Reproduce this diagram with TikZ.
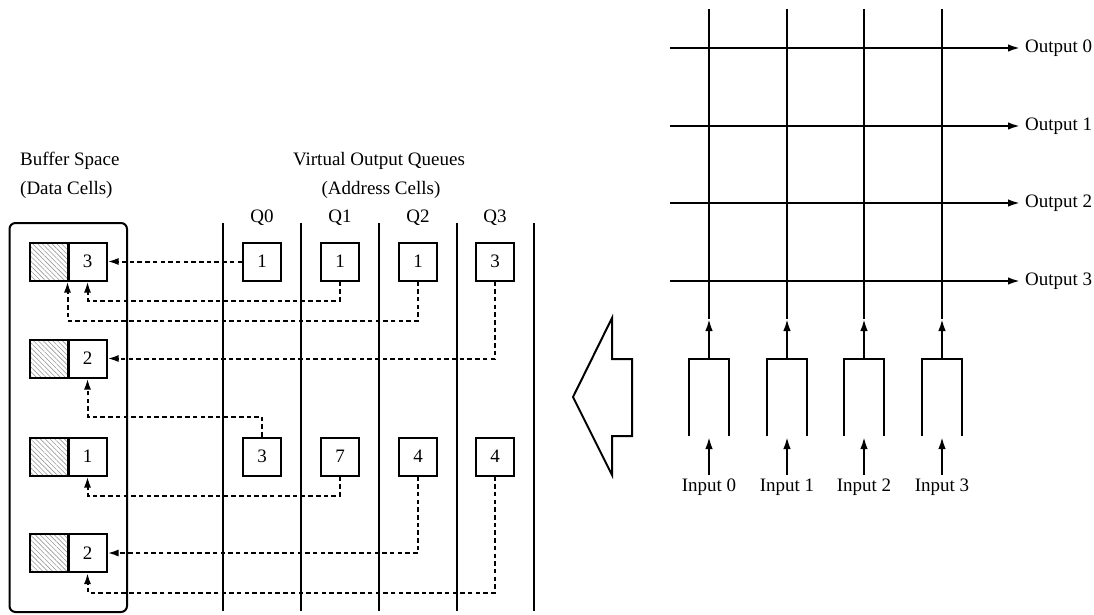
\documentclass[tikz,border=0pt]{standalone}
\usepackage{fontspec}
\setmainfont{Liberation Serif}
\usetikzlibrary{arrows.meta,patterns.meta}
\begin{document}
\begin{tikzpicture}[x=1pt,y=-1pt,
  wire/.style={line width=2pt},
  tipped/.style={wire,-{Latex[length=12pt,width=7.5pt]}},
  link/.style={line width=2pt,dash pattern=on 4.5pt off 3.2pt,-{Latex[length=11pt,width=7pt]}},
  lbl/.style={font=\fontsize{19}{22}\selectfont,inner sep=0pt},
  cellbox/.style={draw,line width=2pt,minimum width=38pt,minimum height=38pt,inner sep=0pt,font=\fontsize{19}{22}\selectfont},
  hatchbox/.style={cellbox,pattern={Lines[angle=-45,distance=3.4pt,line width=0.6pt]},pattern color=gray!80},
]
\useasboundingbox (0,0) rectangle (1094,615);

% ---------- buffer space ----------
\node[lbl,anchor=base west] (bs) at (20,165) {Buffer Space};
\node[lbl,anchor=base west] (dc) at (20,194) {(Data Cells)};
\draw[wire,rounded corners=6pt] (9.5,223) rectangle (127,612);

\foreach \i/\y/\v in {1/261.5/3,2/358.5/2,3/456.5/1,4/553/2}{
  \node[hatchbox] (h\i) at (48.5,\y) {};
  \node[cellbox] (c\i) at (87.5,\y) {\v};
}

% ---------- virtual output queues ----------
\node[lbl,anchor=base] (voq) at (379,165) {Virtual Output Queues};
\node[lbl,anchor=base] (ac) at (381,194) {(Address Cells)};
\foreach \x in {223,301,379,457,534}
  \draw[wire] (\x,223) -- (\x,611);
\foreach \k/\x in {0/262,1/340,2/418,3/495}
  \node[lbl,anchor=base] (qh\k) at (\x,222) {Q\k};

\node[cellbox] (qa0) at (262,261.5) {1};
\node[cellbox] (qa1) at (340,261.5) {1};
\node[cellbox] (qa2) at (418,261.5) {1};
\node[cellbox] (qa3) at (495,261.5) {3};
\node[cellbox] (qb0) at (262,456.5) {3};
\node[cellbox] (qb1) at (340,456.5) {7};
\node[cellbox] (qb2) at (418,456.5) {4};
\node[cellbox] (qb3) at (495,456.5) {4};

% ---------- address pointers ----------
\draw[link] (qa0.west) -- (c1.east);
\draw[link] (qa1.south) -- ++(0,19) -| (c1.south);
\draw[link] (qa2.south) -- ++(0,39) -| (c1.south west);
\draw[link] (qa3.south) |- (c2.east);
\draw[link] (qb0.north) -- ++(0,-20) -| (c2.south);
\draw[link] (qb1.south) -- ++(0,19) -| (c3.south);
\draw[link] (qb2.south) |- (c4.east);
\draw[link] (qb3.south) -- ++(0,116) -| (c4.south);

% ---------- hollow arrow ----------
\draw[wire,line join=miter] (573,397) -- (612,318) -- (612,359) -- (632,359)
  -- (632,436) -- (612,436) -- (612,475) -- cycle;

% ---------- crossbar ----------
\foreach \j/\y in {0/48,1/126,2/203,3/281}{
  \node[lbl,anchor=west,inner xsep=5pt] (o\j) at (1020,\y) {\vphantom{O}Output \j};
  \coordinate (l\j) at (670,\y);
  \draw[tipped] (l\j) -- (o\j.west);
}
\foreach \k/\x in {0/709,1/787,2/864,3/942}{
  \draw[wire] (\x,9) -- (\x,319);
  \draw[wire] (\x-20,436) -- (\x-20,359) -- (\x+20,359) -- (\x+20,436);
  \coordinate (f\k) at (\x,359);
  \coordinate (t\k) at (\x,319);
  \draw[tipped] (f\k) -- (t\k);
  \node[lbl,anchor=base] (in\k) at (\x,491) {Input \k};
  \coordinate (g\k) at (\x,437);
  \draw[tipped] (\x,475) -- (g\k);
}
\end{tikzpicture}
\end{document}
